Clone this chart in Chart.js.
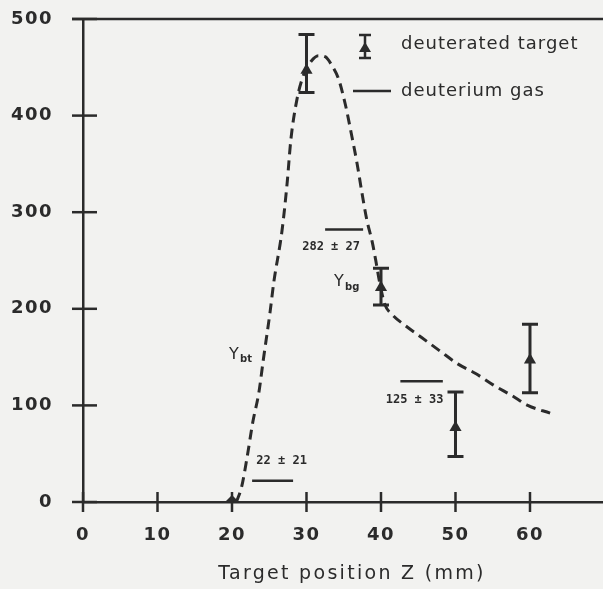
<!DOCTYPE html>
<html>
<head>
<meta charset="utf-8">
<script src="https://cdn.jsdelivr.net/npm/chart.js@4.4.1/dist/chart.umd.min.js"></script>
<style>
  html, body { margin: 0; padding: 0; background: #f2f2f0; }
  #wrap { width: 603px; height: 589px; }
</style>
</head>
<body>
<div id="wrap"><canvas id="grafico" width="603" height="589"></canvas></div>
<script>
// target positions (mm) and yields, deuterated target
const zPos = [20, 30, 40, 50, 60]
const yieldTarget = [0, 447, 222, 77, 147]
const errHigh = [0, 484, 242, 114, 184]
const errLow = [0, 424, 204, 47, 113]

// deuterium gas, flat segments
const gasZ = [[22.7, 28.2], [32.5, 37.6], [42.6, 48.3]]
const gasYield = [22, 282, 125]
const gasLabels = ["22 ± 21", "282 ± 27", "125 ± 33"]

// dashed curve
const curveZ = [20.6, 21.3, 22.0, 22.8, 23.6, 24.2, 25.1, 25.6, 26.7, 27.4, 27.9, 28.7, 29.6, 30.6, 31.6, 32.5,
    33.4, 34.3, 35.2, 36.0, 36.8, 37.4, 38.1, 38.8, 39.3, 39.8, 40.5, 41.5, 43.2, 45.5, 47.8, 50.3,
    52.7, 55.1, 57.6, 59.7, 62.7]
const curveY = [0, 16, 45, 83, 113, 147, 196, 227, 280, 330, 375, 416, 442, 456, 462, 461,
    452, 438, 412, 382, 350, 322, 292, 270, 250, 228, 205, 194, 183, 170, 157, 143,
    133, 121, 110, 100, 92]

const xTicks = [0, 10, 20, 30, 40, 50, 60]
const yTicks = [0, 100, 200, 300, 400, 500]

const ink = "#2b2b2b"
const tickFont = { family: "DejaVu Sans", size: 18, weight: "bold" }

// a little spacing for the axis numbers (the scan uses a wide typeface)
const spacing = {
    id: "spacing",
    beforeDraw(chart) { chart.ctx.letterSpacing = "1.5px" },
    afterDraw(chart) { chart.ctx.letterSpacing = "0px" }
}

// 🖊 extras: frame, crossing ticks, error bars, labels, legend
const extras = {
    id: "extras",
    afterDatasetsDraw(chart) {
        const ctx = chart.ctx
        const x = chart.scales.x
        const y = chart.scales.y
        const area = chart.chartArea

        ctx.save()
        ctx.letterSpacing = "0px"
        ctx.strokeStyle = ink
        ctx.fillStyle = ink

        // top frame line
        ctx.lineWidth = 2.5
        ctx.beginPath()
        ctx.moveTo(area.left - 11, y.getPixelForValue(500))
        ctx.lineTo(area.right, y.getPixelForValue(500))
        ctx.stroke()

        // crossing tick marks
        yTicks.forEach(v => {
            const py = y.getPixelForValue(v)
            ctx.beginPath()
            ctx.moveTo(area.left - 11, py)
            ctx.lineTo(area.left + 14, py)
            ctx.stroke()
        })
        xTicks.forEach(v => {
            const px = x.getPixelForValue(v)
            ctx.beginPath()
            ctx.moveTo(px, area.bottom - 10)
            ctx.lineTo(px, area.bottom + 10)
            ctx.stroke()
        })

        // error bars
        ctx.lineWidth = 3
        zPos.forEach((z, i) => {
            if (errHigh[i] === errLow[i]) return
            const px = x.getPixelForValue(z)
            const top = y.getPixelForValue(errHigh[i])
            const bot = y.getPixelForValue(errLow[i])
            ctx.beginPath()
            ctx.moveTo(px, top); ctx.lineTo(px, bot)
            ctx.moveTo(px - 8, top); ctx.lineTo(px + 8, top)
            ctx.moveTo(px - 8, bot); ctx.lineTo(px + 8, bot)
            ctx.stroke()
        })

        // gas values
        ctx.font = "bold 12px 'DejaVu Sans Mono'"
        ctx.textAlign = "center"
        ctx.textBaseline = "middle"
        const offs = [[9, -20], [-13, 17], [-7, 19]]
        gasLabels.forEach((t, i) => {
            const mid = (x.getPixelForValue(gasZ[i][0]) + x.getPixelForValue(gasZ[i][1])) / 2
            ctx.fillText(t, mid + offs[i][0], y.getPixelForValue(gasYield[i]) + offs[i][1])
        })

        // Y_bt and Y_bg
        ctx.textAlign = "left"
        ctx.textBaseline = "alphabetic"
        ctx.font = "16px 'DejaVu Sans'"
        ctx.fillText("Y", 229, 359)
        ctx.fillText("Y", 334, 286)
        ctx.font = "bold 10px 'DejaVu Sans'"
        ctx.fillText("bt", 240, 362)
        ctx.fillText("bg", 345, 290)

        // legend
        const lx = 365
        ctx.lineWidth = 2.5
        ctx.beginPath()
        ctx.moveTo(lx, 35); ctx.lineTo(lx, 58)
        ctx.moveTo(lx - 6, 35); ctx.lineTo(lx + 6, 35)
        ctx.moveTo(lx - 6, 58); ctx.lineTo(lx + 6, 58)
        ctx.moveTo(353, 91); ctx.lineTo(391, 91)
        ctx.stroke()
        ctx.beginPath()
        ctx.moveTo(lx, 42); ctx.lineTo(lx + 6, 52); ctx.lineTo(lx - 6, 52)
        ctx.closePath()
        ctx.fill()

        ctx.font = "18px 'DejaVu Sans'"
        ctx.letterSpacing = "1px"
        ctx.textBaseline = "middle"
        ctx.fillText("deuterated target", 401, 44)
        ctx.fillText("deuterium gas", 401, 91)

        // x axis title
        ctx.font = "19px 'DejaVu Sans'"
        ctx.letterSpacing = "2.3px"
        ctx.textAlign = "center"
        ctx.fillText("Target position Z (mm)", 352, 574)

        ctx.restore()
    }
}

const datasets = [{
    type: "line",
    data: curveZ.map((z, i) => ({ x: z, y: curveY[i] })),
    borderColor: ink,
    borderWidth: 3,
    borderDash: [10, 6],
    pointRadius: 0,
    cubicInterpolationMode: "monotone",
    fill: false
}]

gasZ.forEach((seg, i) => {
    datasets.push({
        type: "line",
        data: [{ x: seg[0], y: gasYield[i] }, { x: seg[1], y: gasYield[i] }],
        borderColor: ink,
        borderWidth: 2.5,
        pointRadius: 0,
        fill: false
    })
})

datasets.push({
    type: "scatter",
    data: zPos.map((z, i) => ({ x: z, y: yieldTarget[i] })),
    backgroundColor: ink,
    borderColor: ink,
    pointStyle: zPos.map((z, i) => errHigh[i] === errLow[i] ? "rectRot" : "triangle"),
    pointRadius: 7,
    borderWidth: 0
})

let chart = new Chart(document.getElementById("grafico"), {
    data: { datasets },
    options: {
        responsive: false,
        animation: false,
        devicePixelRatio: 1,
        layout: { autoPadding: false, padding: { top: 19, right: 0, left: 0, bottom: 0 } },
        plugins: { legend: { display: false }, tooltip: { enabled: false } },
        scales: {
            x: {
                type: "linear",
                min: 0,
                max: 69.8,
                afterBuildTicks: s => { s.ticks = xTicks.map(v => ({ value: v })) },
                afterFit: s => { s.height = 87; s.paddingLeft = 0; s.paddingRight = 0 },
                grid: { display: false, drawTicks: false },
                border: { display: true, color: ink, width: 2.5 },
                ticks: { color: ink, font: tickFont, padding: 23, autoSkip: false, maxRotation: 0 },
                title: { display: false, text: "Target position Z (mm)" }
            },
            y: {
                min: 0,
                max: 500,
                afterBuildTicks: s => { s.ticks = yTicks.map(v => ({ value: v })) },
                afterFit: s => { s.width = 83; s.paddingTop = 0; s.paddingBottom = 0 },
                grid: { display: false, drawTicks: false },
                border: { display: true, color: ink, width: 2.5 },
                ticks: { color: ink, font: tickFont, padding: 30 }
            }
        }
    },
    plugins: [spacing, extras]
})
</script>
</body>
</html>
